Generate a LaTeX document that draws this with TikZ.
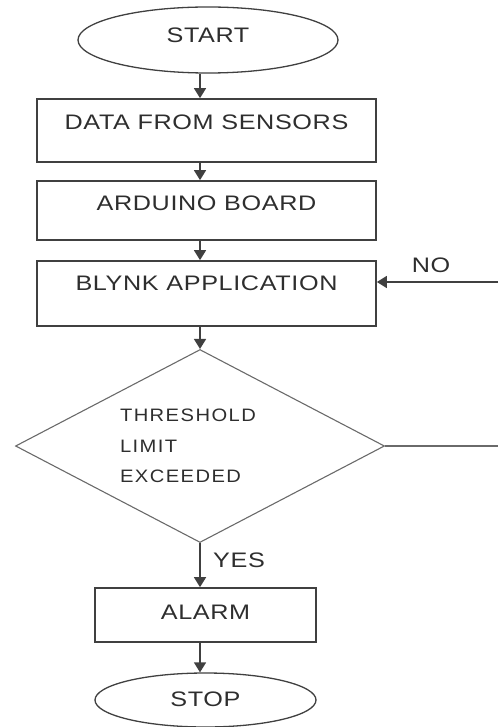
\documentclass[tikz,border=0pt]{standalone}
\usepackage{fontspec}
\setmainfont{Liberation Sans}[FakeStretch=1.2,LetterSpace=3]
\newfontfamily\diafont{Liberation Sans}[FakeStretch=1.12,LetterSpace=8]
\usepackage{tikz}
\usetikzlibrary{shapes.geometric,arrows.meta}
\definecolor{ink}{HTML}{2E2E2E}
\definecolor{edge}{HTML}{404040}
\definecolor{thin}{HTML}{6A6A6A}
\tikzset{
  term/.style={ellipse,draw=edge,line width=1.3pt,text=ink,text height=15pt},
  procbox/.style={rectangle,draw=edge,line width=1.7pt,text=ink,text height=15pt},
  decide/.style={diamond,draw=thin,line width=1.1pt,inner sep=0pt},
  arr/.style={draw=edge,line width=1.6pt,-{Triangle[length=10pt,width=12pt]}},
  flat/.style={draw=thin,line width=1.1pt},
  tag/.style={text=ink}
}
\begin{document}
\begin{tikzpicture}[x=1pt,y=-1pt,font=\fontsize{21}{25}\selectfont]
\useasboundingbox (0,0) rectangle (498,727);
\coordinate (axis) at (200,0);
\node[term,minimum width=260pt,minimum height=66pt,text depth=10pt] (start) at (208,40) {START};
\node[procbox,minimum width=339pt,minimum height=63pt,text depth=17pt] (data) at (206.5,130.5) {DATA FROM SENSORS};
\node[procbox,minimum width=339pt,minimum height=59pt,text depth=15pt] (board) at (206.5,210.5) {ARDUINO BOARD};
\node[procbox,minimum width=339pt,minimum height=65pt,text depth=21pt] (blynk) at (206.5,293.5) {BLYNK APPLICATION};
\node[decide,minimum width=369pt,minimum height=193pt] (limit) at (200,446) {};
\node[tag,text width=160pt,align=left,font=\diafont\fontsize{18}{30.5}\selectfont] (limittext) at (limit) {THRESHOLD\\LIMIT\\EXCEEDED};
\node[procbox,minimum width=221pt,minimum height=54pt,text depth=6pt] (alarm) at (205.5,615) {ALARM};
\node[term,minimum width=221pt,minimum height=54pt,text depth=2pt] (stop) at (205.5,700) {STOP};
\coordinate (noend) at (498,282);
\coordinate (loop) at (498,446);
\draw[arr] (start.south -| axis) -- (data.north -| axis);
\draw[arr] (data.south -| axis) -- (board.north -| axis);
\draw[arr] (board.south -| axis) -- (blynk.north -| axis);
\draw[arr] (blynk.south -| axis) -- (limit.north);
\draw[arr] (limit.south) -- (alarm.north -| limit.south);
\draw[arr] (alarm.south -| limit.south) -- (stop.north -| limit.south);
\draw[flat] (limit.east) -- (loop);
\draw[arr] (noend) -- (noend -| blynk.east);
\node[tag] (no) at (431,265) {NO};
\node[tag] (yes) at (239,560) {YES};
\end{tikzpicture}
\end{document}
